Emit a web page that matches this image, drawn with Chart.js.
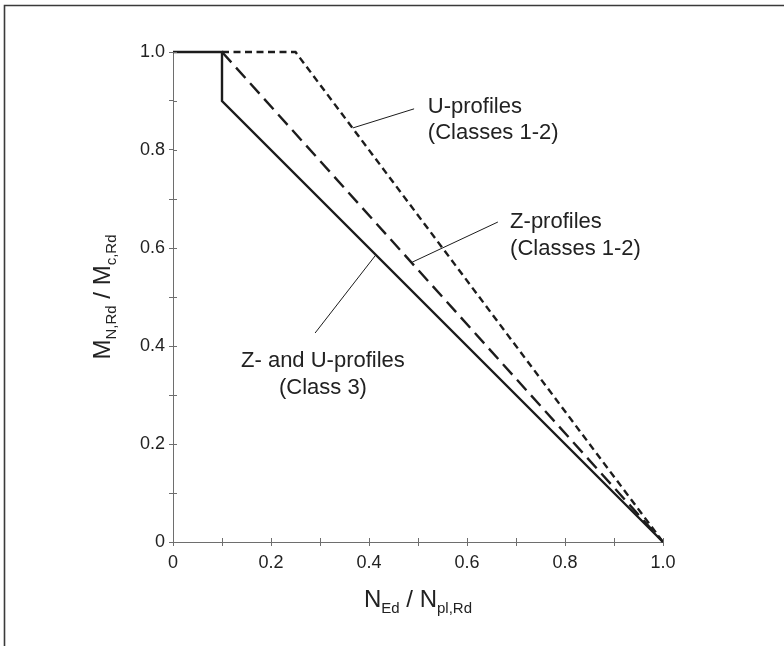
<!DOCTYPE html>
<html>
<head>
<meta charset="utf-8">
<script src="https://cdn.jsdelivr.net/npm/chart.js@4.4.1/dist/chart.umd.min.js"></script>
<style>
  html, body { margin: 0; padding: 0; background: #fff; }
  canvas { display: block; }
</style>
</head>
<body>
<canvas id="c" width="784" height="646"></canvas>
<script>
// M-N interaction curves for cold-formed Z- and U-profiles
const class3X = [0, 0.1, 0.1, 1.0];
const class3Y = [1.0, 1.0, 0.9, 0];
const zProfileX = [0.1, 1.0];
const zProfileY = [1.0, 0];
const uProfileX = [0.1, 0.25, 1.0];
const uProfileY = [1.0, 1.0, 0];

const xTickLabels = ['0', '0.2', '0.4', '0.6', '0.8', '1.0'];
const yTickLabels = ['0', '0.2', '0.4', '0.6', '0.8', '1.0'];

const uLabel = ['U-profiles', '(Classes 1-2)'];
const zLabel = ['Z-profiles', '(Classes 1-2)'];
const class3Label = ['Z- and U-profiles', '(Class 3)'];

// axis titles as [text, isSubscript] runs
const xTitleRuns = [['N', 0], ['Ed', 1], [' / ', 0], ['N', 0], ['pl,Rd', 1]];
const yTitleRuns = [['M', 0], ['N,Rd', 1], [' / ', 0], ['M', 0], ['c,Rd', 1]];

// callout placement in axis units
const callouts = [
  { lines: uLabel, from: [0.367, 0.845], to: [0.492, 0.884], at: [0.52, 0.888], align: 'left' },
  { lines: zLabel, from: [0.488, 0.571], to: [0.663, 0.653], at: [0.688, 0.653], align: 'left' },
  { lines: class3Label, from: [0.414, 0.586], to: [0.290, 0.4265], at: [0.306, 0.369], align: 'center' }
];

const FONT = '"Liberation Sans", Arial, Helvetica, sans-serif';
const INK = '#1c1c1c';
const AXIS = '#6e6e6e';

function pts(xs, ys) { return xs.map((x, i) => ({ x: x, y: ys[i] })); }

function tickText(labels) {
  return function (v) {
    const n = Math.round(v * 10);
    return n % 2 === 0 ? labels[n / 2] : '';
  };
}

function drawRuns(ctx, runs, cx, baseY, big, small) {
  let w = 0;
  runs.forEach(r => {
    ctx.font = (r[1] ? small : big) + 'px ' + FONT;
    w += ctx.measureText(r[0]).width;
  });
  let x = cx - w / 2;
  runs.forEach(r => {
    ctx.font = (r[1] ? small : big) + 'px ' + FONT;
    ctx.fillText(r[0], x, baseY + (r[1] ? 6 : 0));
    x += ctx.measureText(r[0]).width;
  });
}

const decor = {
  id: 'decor',
  beforeDraw(chart) {
    const ctx = chart.ctx;
    ctx.save();
    ctx.fillStyle = '#fff';
    ctx.fillRect(0, 0, chart.width, chart.height);
    // page frame: top and left rules
    ctx.strokeStyle = '#3a3a3a';
    ctx.lineWidth = 1.6;
    ctx.beginPath();
    ctx.moveTo(4.5, chart.height);
    ctx.lineTo(4.5, 5.5);
    ctx.lineTo(chart.width, 5.5);
    ctx.stroke();
    ctx.restore();
  },
  afterDraw(chart) {
    const ctx = chart.ctx;
    const xs = chart.scales.x, ys = chart.scales.y;
    const area = chart.chartArea;
    ctx.save();
    // inner halves of the tick marks so they cross the axis lines
    ctx.strokeStyle = AXIS;
    ctx.lineWidth = 1;
    ctx.beginPath();
    xs.ticks.forEach(t => {
      const px = Math.round(xs.getPixelForValue(t.value)) + 0.5;
      ctx.moveTo(px, area.bottom);
      ctx.lineTo(px, area.bottom - 4);
    });
    ys.ticks.forEach(t => {
      const py = Math.round(ys.getPixelForValue(t.value)) + 0.5;
      ctx.moveTo(area.left, py);
      ctx.lineTo(area.left + 4, py);
    });
    ctx.stroke();

    // callout leaders and labels
    ctx.strokeStyle = INK;
    ctx.lineWidth = 1;
    ctx.fillStyle = '#222';
    callouts.forEach(c => {
      ctx.beginPath();
      ctx.moveTo(xs.getPixelForValue(c.from[0]), ys.getPixelForValue(c.from[1]));
      ctx.lineTo(xs.getPixelForValue(c.to[0]), ys.getPixelForValue(c.to[1]));
      ctx.stroke();
      ctx.font = '22px ' + FONT;
      ctx.textAlign = c.align;
      ctx.textBaseline = 'middle';
      const x0 = xs.getPixelForValue(c.at[0]);
      const y0 = ys.getPixelForValue(c.at[1]);
      c.lines.forEach((s, i) => ctx.fillText(s, x0, y0 + i * 26.5));
    });

    // axis titles with subscripts
    ctx.textAlign = 'left';
    ctx.textBaseline = 'alphabetic';
    ctx.fillStyle = '#222';
    drawRuns(ctx, xTitleRuns, (area.left + area.right) / 2, 607, 24, 15);
    ctx.save();
    ctx.translate(110, (area.top + area.bottom) / 2);
    ctx.rotate(-Math.PI / 2);
    drawRuns(ctx, yTitleRuns, 0, 0, 24, 15);
    ctx.restore();
    ctx.restore();
  }
};

const lineBase = {
  showLine: true,
  pointRadius: 0,
  pointHoverRadius: 0,
  borderColor: INK,
  borderWidth: 2.4,
  fill: false,
  tension: 0,
  clip: false
};

function axis(labels, isX) {
  return {
    type: 'linear',
    min: 0,
    max: 1,
    border: { display: true, color: AXIS, width: 1 },
    grid: { display: true, drawOnChartArea: false, drawTicks: true, tickLength: 4, color: AXIS, lineWidth: 1 },
    ticks: {
      stepSize: 0.1,
      autoSkip: false,
      maxRotation: 0,
      padding: isX ? 6 : 4,
      color: '#222',
      font: { family: FONT, size: 18 },
      callback: tickText(labels)
    },
    afterFit: isX ? (s => { s.height = 104; }) : (s => { s.width = 173; })
  };
}

new Chart(document.getElementById('c'), {
  type: 'scatter',
  data: {
    datasets: [
      Object.assign({}, lineBase, { label: 'Z- and U-profiles (Class 3)', data: pts(class3X, class3Y) }),
      Object.assign({}, lineBase, { label: 'Z-profiles (Classes 1-2)', data: pts(zProfileX, zProfileY), borderDash: [14, 7] }),
      Object.assign({}, lineBase, { label: 'U-profiles (Classes 1-2)', data: pts(uProfileX, uProfileY), borderDash: [7, 4.5] })
    ]
  },
  options: {
    responsive: false,
    animation: false,
    layout: { padding: { top: 52, right: 121, left: 0, bottom: 0 } },
    plugins: { legend: { display: false }, tooltip: { enabled: false } },
    scales: { x: axis(xTickLabels, true), y: axis(yTickLabels, false) }
  },
  plugins: [decor]
});
</script>
</body>
</html>
